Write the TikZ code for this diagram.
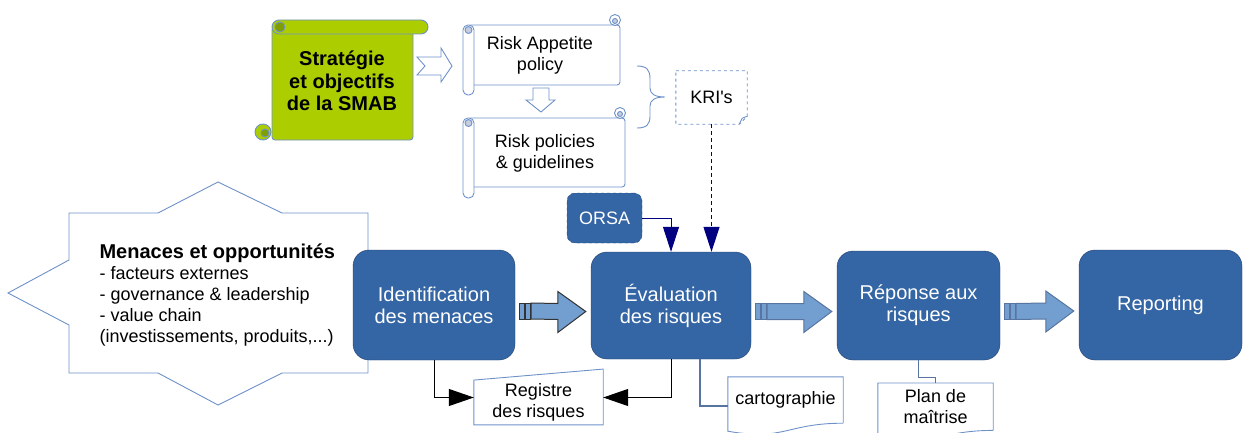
\documentclass[tikz,border=0pt]{standalone}
\usepackage{fontspec}
\setmainfont{Liberation Sans}
\usetikzlibrary{calc,arrows.meta}

\definecolor{boxblue}{RGB}{52,101,164}
\definecolor{boxedge}{RGB}{36,66,112}
\definecolor{arrowblue}{RGB}{114,159,207}
\definecolor{lineblue}{RGB}{110,145,200}
\definecolor{smabgreen}{RGB}{172,206,0}
\definecolor{curlgreen}{RGB}{128,158,0}
\definecolor{curlgrey}{RGB}{196,206,222}
\definecolor{kriNavy}{RGB}{0,0,128}

\tikzset{
  stepbox/.style={draw=boxedge, fill=boxblue, rounded corners=16, text=white,
    align=center, font=\fontsize{20}{22}\selectfont},
  smalltext/.style={align=center, font=\fontsize{18}{21}\selectfont},
  scrollline/.style={draw=lineblue, line width=0.9pt},
  docline/.style={draw=lineblue!80!black, line width=1.1pt},
  bigarrow/.style={draw=#1, fill=arrowblue, line width=1pt},
  navyarrow/.style={draw=kriNavy, line width=1pt, -{Triangle[length=25pt,width=16pt]}},
  blackarrow/.style={draw=black, line width=1pt, -{Triangle[length=25pt,width=17pt]}},
}

\begin{document}
\begin{tikzpicture}[x=1pt,y=-1pt]
        \useasboundingbox (0,0) rectangle (1246,433);
        % Strategie scroll
        \filldraw[scrollline, fill=smabgreen, rounded corners=3] (272,27) rectangle (413,140);
        \filldraw[scrollline, fill=smabgreen, rounded corners=7] (272,20) rectangle (428,34);
        \filldraw[scrollline, fill=curlgreen] (280,27) circle (5);
        \filldraw[scrollline, fill=smabgreen] (263,132) circle (8);
        \filldraw[scrollline, fill=curlgreen] (265,133) circle (4);
        \node[smalltext, font=\fontsize{20}{22.5}\selectfont\bfseries] (strat) at (342,81) {Stratégie\\et objectifs\\de la SMAB};

        % Risk appetite and risk policies scrolls
        \filldraw[scrollline, fill=white, rounded corners=3] (468,25) rectangle (620,85);
        \filldraw[scrollline, fill=white, rounded corners=5] (463,25) rectangle (474,95);
        \filldraw[scrollline, fill=curlgrey] (468.5,30) circle (3.5);
        \filldraw[scrollline, fill=white] (615,20) circle (5.5);
        \filldraw[scrollline, fill=curlgrey] (615,21) circle (2.5);
        \node[smalltext] (riskapp) at (540,55) {Risk Appetite\\policy};

        \filldraw[scrollline, fill=white, rounded corners=3] (468,118) rectangle (625,187);
        \filldraw[scrollline, fill=white, rounded corners=5] (463,118) rectangle (474,198);
        \filldraw[scrollline, fill=curlgrey] (468.5,123) circle (3.5);
        \filldraw[scrollline, fill=white] (620,113) circle (5.5);
        \filldraw[scrollline, fill=curlgrey] (620,114) circle (2.5);
        \node[smalltext] (riskpol) at (545,153) {Risk policies\\\& guidelines};

        % hollow arrows
        \filldraw[scrollline, fill=white] (417,57) -- (441,57) -- (441,48) -- (452,66)
            -- (441,82) -- (441,75) -- (417,75) -- (425,66) -- cycle;
        \filldraw[scrollline, fill=white] (533,88) -- (549,88) -- (549,100) -- (555,100)
            -- (541,112) -- (526,100) -- (533,100) -- cycle;

        % brace
        \draw[scrollline] (637,66) .. controls (647,66) and (650,70) .. (650,79) -- (650,88)
            .. controls (650,94) and (655,97) .. (665,97) .. controls (655,97) and (650,100) .. (650,106)
            -- (650,116) .. controls (650,124) and (647,128) .. (637,128);

        % KRI's
        \node[smalltext, minimum width=71, minimum height=53] (kri) at (711.5,97.5) {KRI\textquotesingle s};
        \draw[scrollline, dashed] (kri.north west) -- (kri.north east) -- ($(kri.south east)+(0,-8)$)
            -- ($(kri.south east)+(-8,0)$) -- (kri.south west) -- cycle;
        \draw[scrollline] ($(kri.south east)+(0,-8)$) -- ($(kri.south east)+(-5,-6)$) -- ($(kri.south east)+(-8,0)$);

        % Menaces
        \filldraw[scrollline, fill=white] (69,213) -- (158,213) -- (218,182) -- (282,213) -- (368,213)
            -- (368,260) -- (428,293) -- (368,325) -- (368,373) -- (282,373) -- (218,405) -- (158,373)
            -- (69,373) -- (69,325) -- (8,293) -- (69,260) -- cycle;
        \node[smalltext, align=left, anchor=west] (menaces) at (96,295)
            {{\fontsize{20}{21}\selectfont\bfseries Menaces et opportunités}\\- facteurs externes\\
             - governance \& leadership\\- value chain\\(investissements, produits,...)};

        % process boxes
        \node[stepbox, minimum width=162, minimum height=110] (ident) at (434,305) {Identification\\des menaces};
        \node[stepbox, minimum width=160, minimum height=107] (eval) at (671,305.5) {Évaluation\\des risques};
        \node[stepbox, minimum width=163, minimum height=109] (resp) at (918.5,305.5) {Réponse aux\\risques};
        \node[stepbox, minimum width=163, minimum height=110] (report) at (1160.5,305) {Reporting};
        \node[stepbox, rounded corners=8, dashed, font=\fontsize{18}{21}\selectfont,
            minimum width=75, minimum height=50] (orsa) at (604.5,218) {ORSA};

        \foreach \a/\b/\c in {ident/eval/black!80, eval/resp/lineblue!80!black, resp/report/lineblue!80!black}{
            \filldraw[bigarrow=\c] ($(\a.east)+(4,-2)$) rectangle +(5,16);
            \filldraw[bigarrow=\c] ($(\a.east)+(10,-2)$) rectangle +(5,16);
            \filldraw[bigarrow=\c] ($(\a.east)+(16,-2)$) -- ($(\b.west)+(-33,-2)$) -- ($(\b.west)+(-33,-14)$)
                -- ($(\b.west)+(-5,6)$) -- ($(\b.west)+(-33,27)$) -- ($(\b.west)+(-33,14)$)
                -- ($(\a.east)+(16,14)$) -- cycle;
        }

        % inputs to evaluation
        \draw[navyarrow] (orsa.east) -| (eval.north);
        \draw[navyarrow, dash pattern=on 4pt off 3pt] (kri.south) -- (kri.south |- eval.north);

        % outputs
        \node[smalltext, minimum width=129, minimum height=41] (reg) at (538.5,402.5) {Registre\\des risques};
        \draw[scrollline] (reg.south west) -- (reg.south east) -- ($(reg.north east)+(0,-11)$)
            -- (reg.north west) -- cycle;
        \draw[blackarrow] (ident.south) |- ($(reg.west)+(0,-5)$);
        \draw[blackarrow] (eval.south) |- ($(reg.east)+(0,-5)$);

        \node[smalltext, minimum width=115, minimum height=46] (carto) at (785.5,400) {cartographie};
        \draw[scrollline] (carto.south east) -- (carto.north east) -- (carto.north west) -- ($(carto.south west)+(0,8)$)
            .. controls +(57,10) and +(-57,0) .. (carto.south east);
        \draw[docline] ($(eval.south)+(29,0)$) |- ($(carto.west)+(0,6)$);

        \node[smalltext, minimum width=115, minimum height=47, anchor=north] (plan) at (935.5,383) {Plan de\\maîtrise};
        \draw[scrollline] (plan.south east) -- (plan.north east) -- (plan.north west) -- ($(plan.south west)+(0,8)$)
            .. controls +(57,10) and +(-57,0) .. (plan.south east);
        \draw[docline] (resp.south) -- ++(0,17) -| (plan.north);
\end{tikzpicture}
\end{document}
